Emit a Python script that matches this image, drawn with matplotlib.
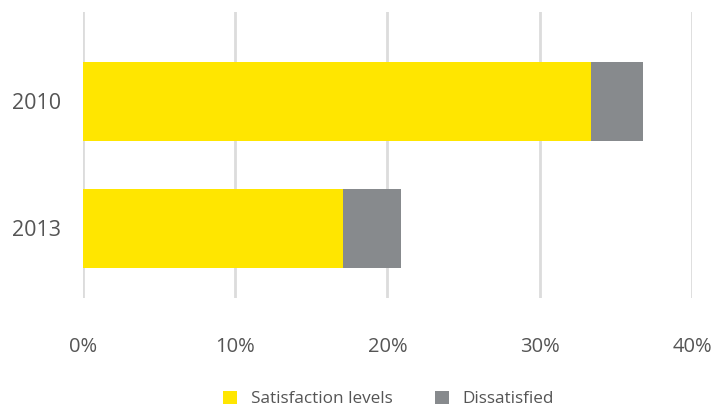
import numpy as np
import matplotlib.pyplot as plt

# datos
years = ["2010", "2013"]
satisfaction = [33.4, 17.1]
dissatisfied = [3.4, 3.8]
ticks = [0, 10, 20, 30, 40]
tick_labels = ["0%", "10%", "20%", "30%", "40%"]

plt.rcParams['font.family'] = ['Open Sans', 'DejaVu Sans']
txt = "#555555"

fig = plt.figure(figsize=(7.13, 4.08), dpi=100)
ax = fig.add_axes([0.1164, 0.27, 0.8541, 0.70])

y = np.arange(len(years))
ax.barh(y, satisfaction, height=0.62, color="#FFE600", label="Satisfaction levels", zorder=3)
ax.barh(y, dissatisfied, left=satisfaction, height=0.62, color="#878A8D",
        label="Dissatisfied", zorder=3)

ax.set_xlim(0, 40)
ax.set_ylim(1.545, -0.698)
ax.set_xticks(ticks)
ax.set_xticklabels(tick_labels)
ax.set_yticks(y)
ax.set_yticklabels(years)
ax.grid(axis="x", color="#dcdcdc", linewidth=2, zorder=0)
for s in ax.spines.values():
    s.set_visible(False)
ax.tick_params(axis="both", length=0, colors=txt)
ax.tick_params(axis="x", pad=28, labelsize=14.5)
ax.tick_params(axis="y", pad=16, labelsize=15.5)

fig.legend(loc="center", bbox_to_anchor=(0.545, 0.022), ncol=2, frameon=False,
           fontsize=12.3, labelcolor=txt, handlelength=0.8, handleheight=0.8,
           columnspacing=2.5, handletextpad=0.8)

fig.savefig("out.png", dpi=100)
